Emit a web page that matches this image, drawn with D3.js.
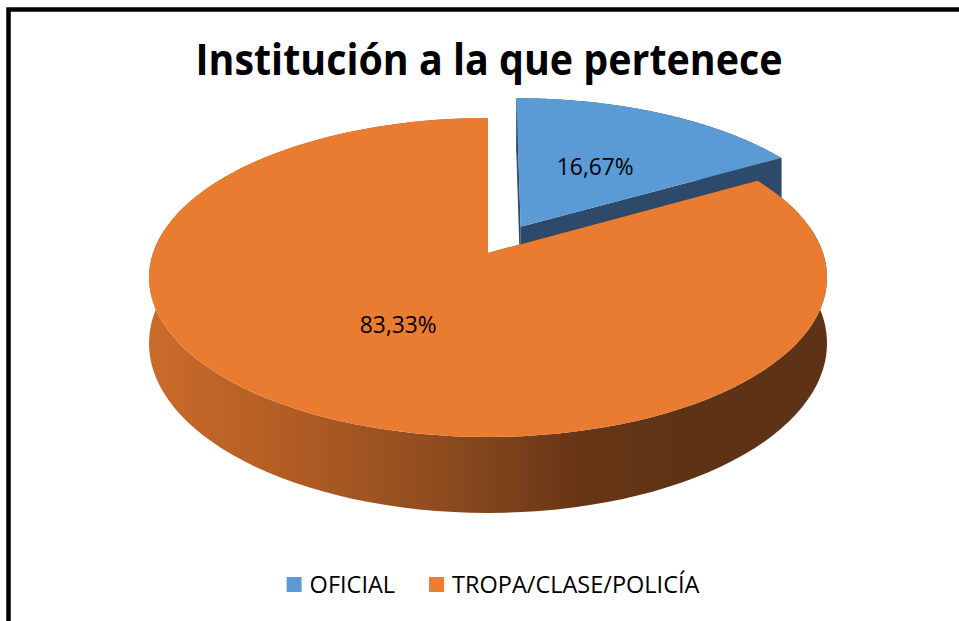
<!DOCTYPE html>
<html>
<head>
<meta charset="utf-8">
<script src="https://cdn.jsdelivr.net/npm/d3@7"></script>
<style>
  body { margin: 0; background: #ffffff; }
  svg { display: block; }
</style>
</head>
<body>
<div id="chart"></div>
<script>
// 3D pie: "Institución a la que pertenece"

const categories = ["OFICIAL", "TROPA/CLASE/POLICÍA"];
const values = [16.67, 83.33];
const valueLabels = ["16,67%", "83,33%"];
const topColors = ["#5b9bd5", "#ea7c31"];
const legendColors = ["#5b9bd5", "#ed7d31"];
const title = "Institución a la que pertenece";

const width = 959, height = 621;

const svg = d3.select("#chart")
    .append("svg")
    .attr("width", width)
    .attr("height", height)
    .style("background-color", "#ffffff");

// frame (only top and left edges fall inside the picture)
svg.append("rect")
    .attr("x", 8.5)
    .attr("y", 9.5)
    .attr("width", 1000)
    .attr("height", 700)
    .attr("fill", "none")
    .attr("stroke", "#000")
    .attr("stroke-width", 4.5);

// title
svg.append("text")
    .attr("x", 489)
    .attr("y", 75)
    .attr("text-anchor", "middle")
    .attr("font-family", "'Open Sans', sans-serif")
    .attr("font-weight", "bold")
    .attr("font-size", 43)
    .attr("textLength", 587)
    .attr("lengthAdjust", "spacingAndGlyphs")
    .text(title);

// perspective projection of a tilted disk
const cx = 488, cy = 253;
const A = 335, B = 155.7, H = 64.3, e = 0.1536;
function proj(X, Z, down) {
    let w = 1 + e * Z;
    return [cx + A * X / w, cy - B * Z / w + (down ? H / w : 0)];
}

const pie = d3.pie().sort(null).startAngle(0).endAngle(2 * Math.PI);
const arcs = pie(values);

const explode = [0.2, 0];
const sideFill = ["#2e4a6a", "url(#sideGrad)"];

// gradient for the orange rim
const defs = svg.append("defs");
const grad = defs.append("linearGradient")
    .attr("id", "sideGrad")
    .attr("gradientUnits", "userSpaceOnUse")
    .attr("x1", 149).attr("x2", 827)
    .attr("y1", 0).attr("y2", 0);
[[0, "#ca6b2a"], [0.2, "#b35d24"], [0.45, "#8a4a1e"], [0.63, "#683616"], [0.78, "#5e3214"], [1, "#5e3214"]]
    .forEach(s => grad.append("stop").attr("offset", s[0]).attr("stop-color", s[1]));

const line = d3.line();
const g = svg.append("g");

function drawSlice(i) {
    let a = arcs[i];
    let mid = (a.startAngle + a.endAngle) / 2;
    let ox = explode[i] * Math.sin(mid), oz = explode[i] * Math.cos(mid);
    let angles = d3.range(0, 121).map(k => a.startAngle + (a.endAngle - a.startAngle) * k / 120);
    let rim = (ang, down) => proj(Math.sin(ang) + ox, Math.cos(ang) + oz, down);
    let topArc = angles.map(ang => rim(ang, false));
    let botArc = angles.map(ang => rim(ang, true)).reverse();
    let c0 = proj(ox, oz, false), c1 = proj(ox, oz, true);

    // radial faces
    [a.startAngle, a.endAngle].forEach(ang => {
        g.append("path")
            .attr("d", line([c0, rim(ang, false), rim(ang, true), c1]) + "Z")
            .attr("fill", i === 0 ? "#2e4a6a" : "#6a3717");
    });
    // outer rim
    g.append("path")
        .attr("d", line(topArc.concat(botArc)) + "Z")
        .attr("fill", sideFill[i]);
    // top face
    g.append("path")
        .attr("d", line([c0].concat(topArc)) + "Z")
        .attr("fill", topColors[i]);
}

// back slice first, then the big front slice
drawSlice(0);
drawSlice(1);

// value labels
arcs.forEach((a, i) => {
    let mid = (a.startAngle + a.endAngle) / 2;
    let ox = explode[i] * Math.sin(mid), oz = explode[i] * Math.cos(mid);
    let p = proj(0.5 * Math.sin(mid) + ox, 0.5 * Math.cos(mid) + oz, false);
    svg.append("text")
        .attr("x", p[0])
        .attr("y", p[1])
        .attr("dy", "0.35em")
        .attr("text-anchor", "middle")
        .attr("font-family", "'Open Sans', sans-serif")
        .attr("font-size", 22.8)
        .attr("fill", "#000")
        .text(valueLabels[i]);
});

// legend
const legend = svg.append("g");
let items = categories.map((c, i) => {
    let it = legend.append("g");
    it.append("rect")
        .attr("width", 15).attr("height", 15)
        .attr("y", 577)
        .attr("fill", legendColors[i]);
    let t = it.append("text")
        .attr("x", 23)
        .attr("y", 593)
        .attr("font-family", "'Open Sans', sans-serif")
        .attr("font-size", 23.5)
        .attr("fill", "#000")
        .text(c);
    return {it: it, w: 23 + t.node().getComputedTextLength()};
});
let gap = 34;
let total = d3.sum(items, d => d.w) + gap * (items.length - 1);
let x0 = 493 - total / 2;
items.forEach(d => {
    d.it.attr("transform", "translate(" + x0 + ",0)");
    x0 += d.w + gap;
});
</script>
</body>
</html>
